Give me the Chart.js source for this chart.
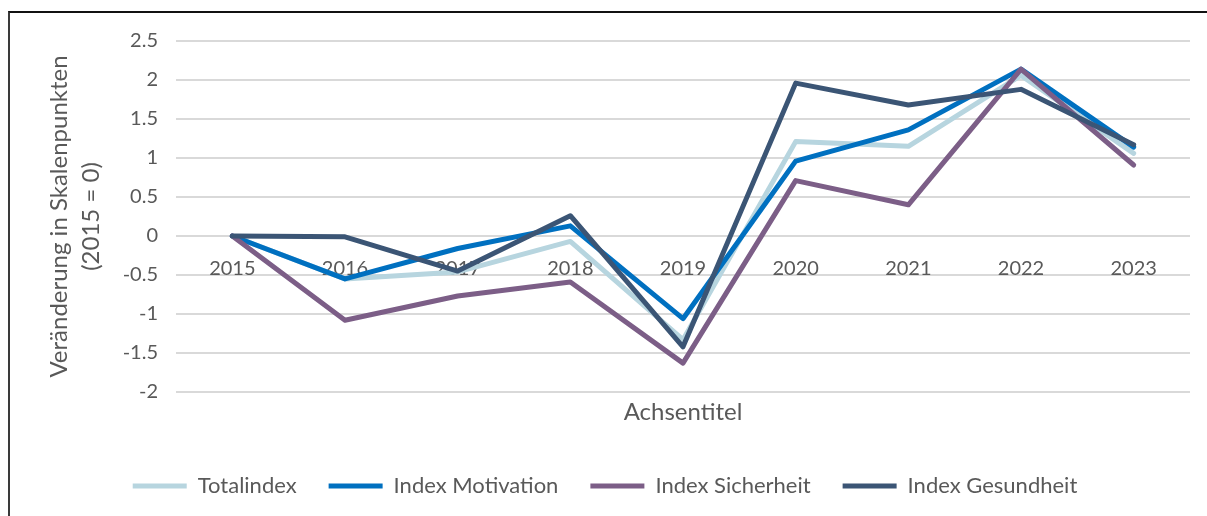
<!DOCTYPE html>
<html>
<head>
<meta charset="utf-8">
<script src="https://cdn.jsdelivr.net/npm/chart.js@4.4.0/dist/chart.umd.min.js"></script>
<style>
html, body { margin: 0; padding: 0; background: #fff; }
#wrap { position: relative; width: 1207px; height: 516px; overflow: hidden; }
#frame { position: absolute; left: 8px; top: 11px; right: -10px; bottom: -10px;
         border-top: 2px solid #111; border-left: 2px solid #3a3a3a; }
canvas { position: absolute; left: 0; top: 0; }
</style>
</head>
<body>
<div id="wrap">
  <div id="frame"></div>
  <canvas id="chart" width="1207" height="516"></canvas>
</div>
<script>
var years = ['2015', '2016', '2017', '2018', '2019', '2020', '2021', '2022', '2023'];
var totalindex = [0, -0.55, -0.46, -0.07, -1.33, 1.21, 1.15, 2.06, 1.06];
var motivation = [0, -0.55, -0.16, 0.13, -1.06, 0.96, 1.36, 2.14, 1.14];
var sicherheit = [0, -1.08, -0.77, -0.59, -1.63, 0.71, 0.40, 2.14, 0.91];
var gesundheit = [0, -0.01, -0.45, 0.26, -1.42, 1.96, 1.68, 1.88, 1.17];
var yMin = -2, yMax = 2.5, yStep = 0.5;

var textColor = '#595959';
Chart.defaults.font.family = 'Lato, "Open Sans", sans-serif';

function line(label, data, color, order) {
    return {
        label: label,
        data: data,
        borderColor: color,
        backgroundColor: color,
        borderWidth: 5,
        borderJoinStyle: 'round',
        borderCapStyle: 'round',
        pointRadius: 0,
        pointStyle: 'line',
        tension: 0,
        order: order
    };
}

var chart = new Chart(document.getElementById('chart'), {
    type: 'line',
    data: {
        labels: years,
        datasets: [
            line('Totalindex', totalindex, '#b7d5df', 4),
            line('Index Motivation', motivation, '#0070c0', 3),
            line('Index Sicherheit', sicherheit, '#7c5e87', 2),
            line('Index Gesundheit', gesundheit, '#3b5575', 1)
        ]
    },
    options: {
        responsive: false,
        devicePixelRatio: 1,
        animation: false,
        locale: 'en-US',
        layout: { padding: { left: 20, right: 17, top: 41, bottom: 9 } },
        plugins: {
            tooltip: { enabled: false },
            legend: {
                position: 'bottom',
                labels: {
                    usePointStyle: true,
                    pointStyleWidth: 54,
                    color: textColor,
                    font: { size: 22 },
                    padding: 32,
                    sort: function(a, b) { return a.datasetIndex - b.datasetIndex; }
                }
            }
        },
        scales: {
            x: {
                type: 'category',
                position: { y: 0 },
                offset: true,
                grid: { display: false, drawTicks: false },
                border: { display: false },
                ticks: { color: textColor, font: { size: 20 }, padding: 21, maxRotation: 0 }
            },
            x2: {
                type: 'category',
                labels: years,
                position: 'bottom',
                grid: { display: false, drawTicks: false },
                border: { display: false },
                ticks: { display: false },
                title: { display: true, text: 'Achsentitel', color: textColor,
                         font: { size: 24, lineHeight: 1.1 }, padding: { top: 0, bottom: 18 } },
                afterFit: function(s) { s.height = 51; }
            },
            y: {
                min: yMin,
                max: yMax,
                grid: { color: '#d9d9d9', lineWidth: 2, drawTicks: false },
                border: { display: false },
                ticks: {
                    stepSize: yStep, color: textColor, font: { size: 20 }, padding: 18,
                    callback: function(v) { return String(Math.round(v * 10) / 10); }
                },
                title: {
                    display: true,
                    text: ['Veränderung in Skalenpunkten', '(2015 = 0)'],
                    color: textColor,
                    font: { size: 24, lineHeight: 1.3 },
                    padding: { top: 24, bottom: 0 }
                },
                afterFit: function(s) { s.width = 156; }
            }
        }
    }
});
</script>
</body>
</html>
